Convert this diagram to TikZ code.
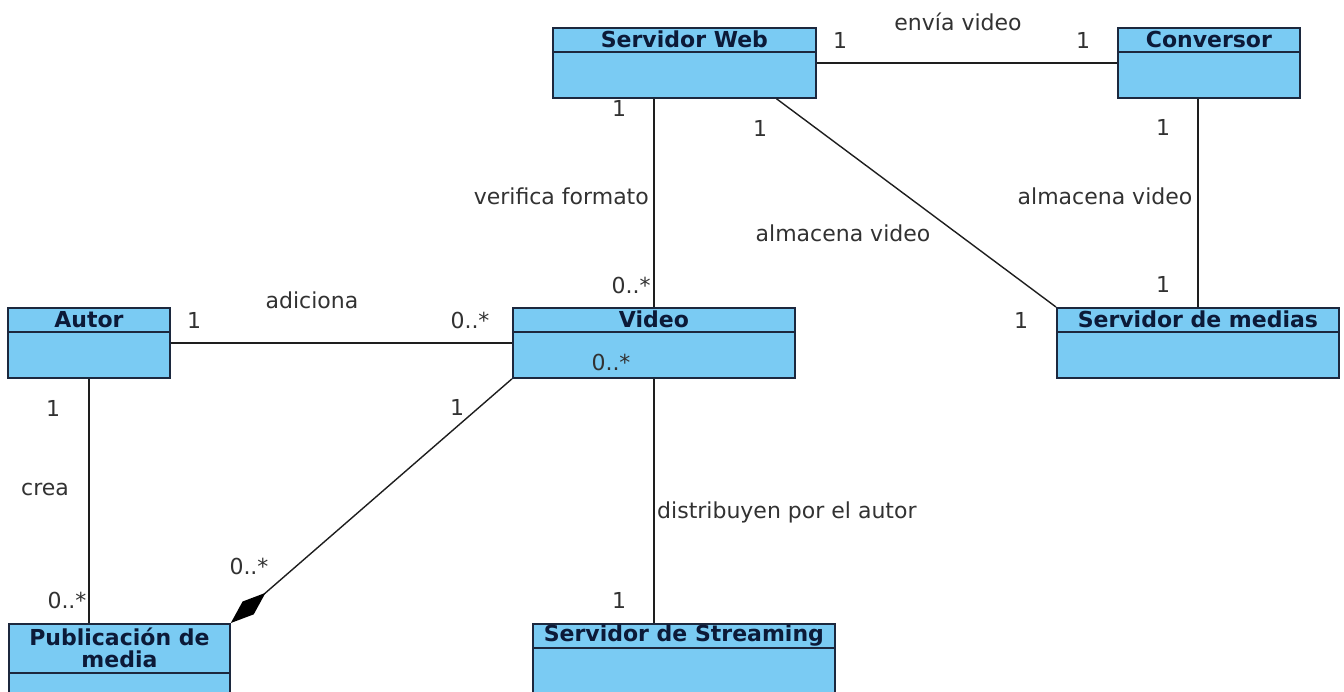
\documentclass[tikz,border=0pt]{standalone}
\usepackage{fontspec}
\setmainfont{DejaVu Sans}
\usepackage{xcolor}
\definecolor{celeste}{RGB}{122,203,243}
\definecolor{marino}{RGB}{12,26,56}
\definecolor{borde}{RGB}{28,40,62}
\definecolor{gris}{RGB}{50,50,50}
\definecolor{linea}{RGB}{30,30,30}
\usetikzlibrary{arrows.meta,calc,positioning}

\tikzset{
  caja/.style={draw=borde, fill=celeste, line width=1.8pt, inner sep=0pt, anchor=north west},
  division/.style={draw=borde, line width=1.8pt},
  titulo/.style={font=\fontsize{22}{22}\selectfont\bfseries, text=marino, align=center, inner sep=0pt},
  etiq/.style={font=\fontsize{22}{24}\selectfont, text=gris, inner sep=0pt},
  enlace/.style={draw=linea, line width=1.4pt},
}

% class box: name, x, y (top left), width, height, header height, title
\newcommand{\clase}[7]{%
  \node[caja, minimum width=#4pt, minimum height=#5pt] (#1) at (#2,#3) {};
  \draw[division] ($(#1.north west)+(0,#6)$) -- ($(#1.north east)+(0,#6)$);
  \node[titulo] (#1-t) at ($(#1.north)+(0,#6/2)$) {#7};
}

\begin{document}
\begin{tikzpicture}[x=1pt,y=-1pt]
  \useasboundingbox (0,0) rectangle (1344,691);
  \clip (0,0) rectangle (1344,691);
  \fill[white] (0,0) rectangle (1344,691);

  % Classes
  \clase{web}{552}{27}{263}{70}{25}{Servidor Web}
  \clase{conv}{1117}{27}{182}{70}{25}{Conversor}
  \clase{autor}{7}{307}{162}{70}{25}{Autor}
  \clase{video}{512}{307}{282}{70}{25}{Video}
  \clase{medias}{1056}{307}{282}{70}{25}{Servidor de medias}
  \clase{pub}{8}{623}{221}{90}{50}{Publicación de\\media}
  \clase{stream}{532}{623}{302}{90}{25}{Servidor de Streaming}

  % Associations
  \draw[enlace] (web.east) -- (conv.west);
  \draw[enlace] (video.north) -- (video.north |- web.south);
  \draw[enlace] ($(web.south west)!0.848!(web.south east)$) -- (medias.north west);
  \draw[enlace] (medias.north) -- (medias.north |- conv.south);
  \draw[enlace] (autor.east) -- (video.west);
  \draw[enlace] (autor.south) -- (autor.south |- pub.north);
  \draw[enlace, {Diamond[length=46pt,width=17pt,color=black]}-] (pub.north east) -- (video.south west);
  \draw[enlace] (video.south) -- (video.south |- stream.north);

  % Labels
  \node[etiq] (l-envia) at (958,22) {envía video};
  \node[etiq] (m-web1) at (840,40) {1};
  \node[etiq] (m-conv1) at (1083,40) {1};
  \node[etiq] (m-web2) at (619,108) {1};
  \node[etiq] (m-web3) at (760,128) {1};
  \node[etiq, anchor=east] (l-verifica) at (649,196) {verifica formato};
  \node[etiq] (l-almacena1) at (843,233) {almacena video};
  \node[etiq] (m-video1) at (631,285) {0..*};
  \node[etiq] (m-conv2) at (1163,127) {1};
  \node[etiq] (l-almacena2) at (1105,196) {almacena video};
  \node[etiq] (m-medias1) at (1163,284) {1};
  \node[etiq] (m-medias2) at (1021,320) {1};
  \node[etiq] (l-adiciona) at (312,300) {adiciona};
  \node[etiq] (m-autor1) at (194,320) {1};
  \node[etiq] (m-video2) at (470,320) {0..*};
  \node[etiq] (m-autor2) at (53,408) {1};
  \node[etiq] (l-crea) at (45,489) {crea};
  \node[etiq] (m-pub1) at (67,600) {0..*};
  \node[etiq] (m-video3) at (457,407) {1};
  \node[etiq] (m-pub2) at (249,566) {0..*};
  \node[etiq] (m-video4) at (611,362) {0..*};
  \node[etiq, anchor=west] (l-distribuyen) at (657,512) {distribuyen por el autor};
  \node[etiq] (m-stream1) at (619,600) {1};
\end{tikzpicture}
\end{document}
